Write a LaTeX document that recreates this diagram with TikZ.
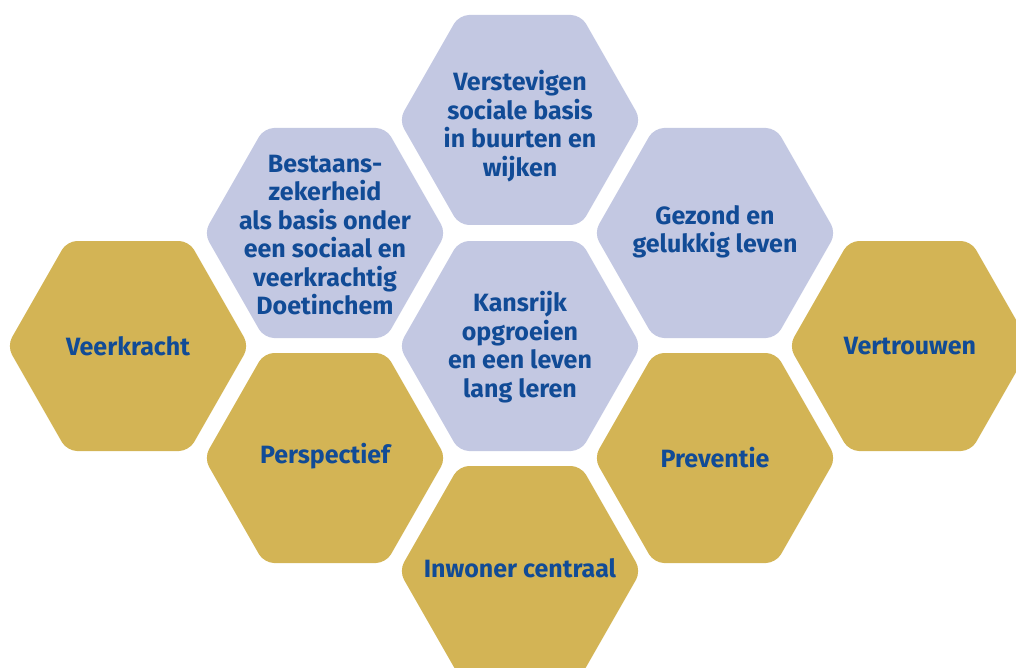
\documentclass[tikz,border=0pt]{standalone}
\usepackage{fontspec}
\setmainfont{Fira Sans}
\definecolor{gold}{HTML}{D3B455}
\definecolor{lav}{HTML}{C3C8E2}
\definecolor{txtblue}{HTML}{114B96}
\tikzset{
  hexlabel/.style={text=txtblue, font=\bfseries\fontsize{25}{28.5}\selectfont, align=center, inner sep=0pt},
}
\newcommand{\hexat}[2]{% center, fill colour
  \fill[#2, rounded corners=10pt] ($(#1)+(-121,0)$) -- ($(#1)+(-61,-105)$) -- ($(#1)+(61,-105)$) -- ($(#1)+(121,0)$) -- ($(#1)+(61,105)$) -- ($(#1)+(-61,105)$) -- cycle;
}
\usetikzlibrary{calc}
\begin{document}
\begin{tikzpicture}[x=1pt,y=-1pt]
\useasboundingbox (0,0) rectangle (1016,668);
\clip (0,0) rectangle (1016,668);
\coordinate (cTop) at (520,120);
\coordinate (cBest) at (325,233);
\coordinate (cGez) at (715,233);
\coordinate (cVeer) at (128,346);
\coordinate (cKans) at (520,346);
\coordinate (cVert) at (910,346);
\coordinate (cPers) at (325,458);
\coordinate (cPrev) at (715,458);
\coordinate (cInw) at (520,571);
\hexat{cTop}{lav}
\hexat{cBest}{lav}
\hexat{cGez}{lav}
\hexat{cKans}{lav}
\hexat{cVeer}{gold}
\hexat{cVert}{gold}
\hexat{cPers}{gold}
\hexat{cPrev}{gold}
\hexat{cInw}{gold}
\node[hexlabel] (tTop) at ($(cTop)+(0,6)$) {Verstevigen\\sociale basis\\in buurten en\\wijken};
\node[hexlabel] (tBest) at ($(cBest)+(0,2)$) {Bestaans-\\zekerheid\\als basis onder\\een sociaal en\\veerkrachtig\\Doetinchem};
\node[hexlabel] (tGez) at ($(cGez)+(0,-1)$) {Gezond en\\gelukkig leven};
\node[hexlabel] (tKans) at ($(cKans)+(0,1)$) {Kansrijk\\opgroeien\\en een leven\\lang leren};
\node[hexlabel] (tVeer) at (cVeer) {Veerkracht};
\node[hexlabel] (tVert) at (cVert) {Vertrouwen};
\node[hexlabel] (tPers) at ($(cPers)+(0,-2)$) {Perspectief};
\node[hexlabel] (tPrev) at (cPrev) {Preventie};
\node[hexlabel] (tInw) at ($(cInw)+(0,-3)$) {Inwoner centraal};
\end{tikzpicture}
\end{document}
